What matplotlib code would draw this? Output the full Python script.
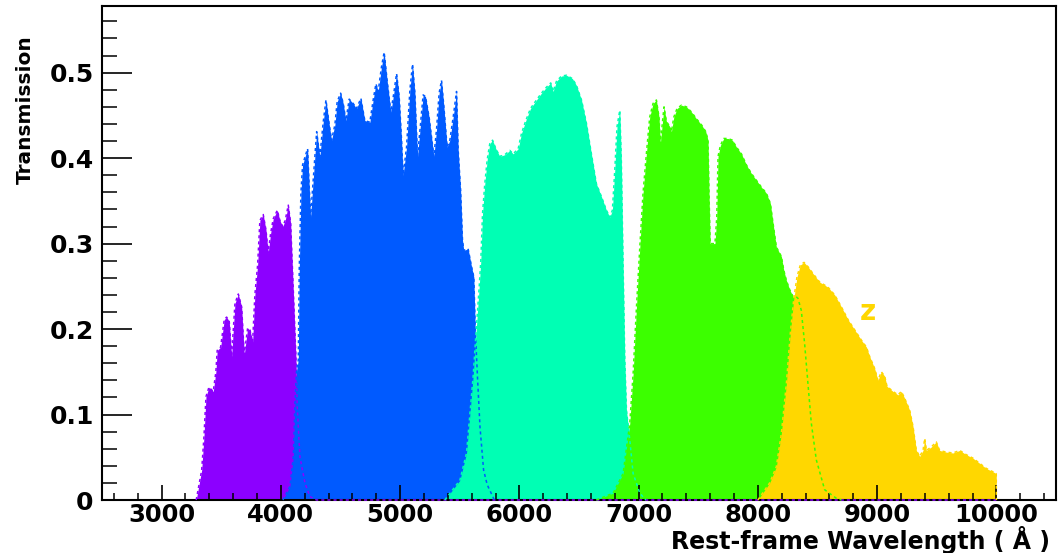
import matplotlib
matplotlib.use("Agg")
import matplotlib.pyplot as plt
from matplotlib.ticker import MultipleLocator, FuncFormatter

plt.rcParams['font.family'] = ['DejaVu Sans']
plt.rcParams['font.weight'] = 'bold'

# u filter
u_wave = [3290, 3336, 3355, 3372, 3397, 3433, 3455, 3466, 3495, 3525,
          3545, 3567, 3587, 3615, 3643, 3671, 3693, 3721, 3741, 3763,
          3782, 3805, 3824, 3852, 3875, 3894, 3914, 3936, 3970, 3992,
          4015, 4036, 4062, 4082, 4104, 4126, 4137, 4160, 4202, 4243,
          4300, 10000]
u_trans = [0, 0.035, 0.074, 0.121, 0.132, 0.127, 0.15, 0.175, 0.179, 0.211,
           0.214, 0.209, 0.168, 0.23, 0.241, 0.226, 0.17, 0.201, 0.199, 0.185,
           0.24, 0.275, 0.327, 0.334, 0.316, 0.289, 0.312, 0.329, 0.339, 0.327,
           0.32, 0.327, 0.345, 0.324, 0.246, 0.168, 0.109, 0.05, 0.02, 0.004,
           0, 0]

# g filter
g_wave = [4017, 4076, 4104, 4118, 4132, 4146, 4154, 4168, 4182, 4210,
          4224, 4249, 4271, 4300, 4327, 4355, 4378, 4405, 4425, 4453,
          4472, 4501, 4523, 4545, 4573, 4606, 4634, 4671, 4704, 4746,
          4774, 4797, 4816, 4844, 4866, 4891, 4922, 4947, 4970, 4992,
          5012, 5025, 5054, 5082, 5104, 5124, 5146, 5171, 5193, 5213,
          5243, 5263, 5283, 5305, 5327, 5347, 5367, 5394, 5417, 5445,
          5473, 5487, 5507, 5523, 5534, 5570, 5599, 5618, 5630, 5650,
          5670, 5700, 5730, 5790]
g_trans = [0, 0.016, 0.05, 0.113, 0.152, 0.164, 0.269, 0.359, 0.392, 0.405,
           0.411, 0.331, 0.374, 0.431, 0.402, 0.442, 0.468, 0.44, 0.421, 0.439,
           0.466, 0.476, 0.464, 0.444, 0.469, 0.464, 0.458, 0.47, 0.444, 0.442,
           0.468, 0.487, 0.478, 0.507, 0.524, 0.491, 0.454, 0.476, 0.499, 0.472,
           0.421, 0.38, 0.413, 0.48, 0.51, 0.476, 0.402, 0.44, 0.474, 0.472,
           0.448, 0.425, 0.402, 0.433, 0.476, 0.491, 0.46, 0.413, 0.421, 0.448,
           0.478, 0.409, 0.363, 0.304, 0.292, 0.294, 0.273, 0.261, 0.2, 0.14,
           0.085, 0.035, 0.018, 0]

# r filter
r_wave = [5375, 5501, 5557, 5612, 5640, 5663, 5677, 5691, 5710, 5730,
          5752, 5775, 5803, 5836, 5878, 5920, 5948, 5990, 6018, 6054,
          6093, 6143, 6185, 6227, 6263, 6283, 6311, 6353, 6395, 6445,
          6479, 6521, 6562, 6604, 6646, 6688, 6730, 6758, 6780, 6800,
          6819, 6842, 6855, 6869, 6884, 6898, 6926, 6954, 7010, 7060]
r_trans = [0, 0.023, 0.055, 0.144, 0.203, 0.249, 0.281, 0.335, 0.37, 0.398,
           0.417, 0.421, 0.411, 0.402, 0.404, 0.409, 0.405, 0.411, 0.429, 0.444,
           0.458, 0.468, 0.476, 0.483, 0.488, 0.478, 0.49, 0.496, 0.497, 0.493,
           0.485, 0.468, 0.441, 0.405, 0.37, 0.355, 0.339, 0.331, 0.339, 0.386,
           0.437, 0.456, 0.398, 0.281, 0.164, 0.105, 0.07, 0.031, 0.008, 0]

# i filter
i_wave = [6646, 6786, 6870, 6926, 6954, 6982, 7010, 7037, 7065, 7093,
          7121, 7149, 7171, 7182, 7199, 7213, 7233, 7261, 7275, 7295,
          7322, 7359, 7401, 7443, 7485, 7527, 7563, 7582, 7590, 7600,
          7640, 7655, 7666, 7686, 7714, 7750, 7786, 7820, 7862, 7904,
          7946, 7988, 8030, 8071, 8105, 8127, 8155, 8197, 8217, 8239,
          8267, 8295, 8320, 8336, 8364, 8392, 8420, 8448, 8490, 8560,
          8658, 8700]
i_trans = [0, 0.008, 0.031, 0.09, 0.148, 0.226, 0.296, 0.359, 0.405, 0.448,
           0.464, 0.468, 0.448, 0.417, 0.441, 0.46, 0.443, 0.437, 0.431, 0.448,
           0.458, 0.462, 0.46, 0.454, 0.446, 0.439, 0.431, 0.421, 0.36, 0.30,
           0.30, 0.33, 0.402, 0.415, 0.423, 0.423, 0.421, 0.413, 0.405, 0.392,
           0.382, 0.374, 0.366, 0.359, 0.347, 0.324, 0.296, 0.285, 0.269, 0.257,
           0.246, 0.238, 0.238, 0.236, 0.222, 0.183, 0.136, 0.09, 0.047, 0.012,
           0.002, 0]

# z filter
z_wave = [8000, 8099, 8155, 8197, 8239, 8272, 8300, 8328, 8356, 8387,
          8420, 8462, 8518, 8588, 8644, 8700, 8756, 8812, 8868, 8910,
          8937, 8979, 9007, 9035, 9063, 9083, 9133, 9175, 9203, 9231,
          9273, 9301, 9329, 9357, 9385, 9399, 9413, 9454, 9496, 9524,
          9580, 9636, 9692, 9748, 9803, 9859, 9915, 9971, 9999, 10000]
z_trans = [0, 0.02, 0.039, 0.078, 0.136, 0.195, 0.234, 0.261, 0.275, 0.278,
           0.273, 0.265, 0.255, 0.249, 0.24, 0.226, 0.211, 0.199, 0.187, 0.179,
           0.168, 0.154, 0.14, 0.15, 0.145, 0.133, 0.127, 0.123, 0.127, 0.119,
           0.105, 0.086, 0.058, 0.051, 0.058, 0.072, 0.058, 0.062, 0.068, 0.058,
           0.056, 0.055, 0.058, 0.053, 0.049, 0.043, 0.037, 0.033, 0.031, 0]

filters = [
    (u_wave, u_trans, "#8c00ff"),
    (g_wave, g_trans, "#005aff"),
    (r_wave, r_trans, "#00ffb4"),
    (i_wave, i_trans, "#3cff00"),
    (z_wave, z_trans, "#ffd700"),
]

fig = plt.figure(figsize=(10.58, 5.53), dpi=100)
ax = fig.add_axes([102 / 1058, 53 / 553, 954 / 1058, 494 / 553])

# fills first, then dashed outlines on top
for wave, trans, color in filters:
    ax.fill_between(wave, trans, 0, color=color, linewidth=0, zorder=1)
for wave, trans, color in filters:
    ax.plot(wave, trans, color=color, linestyle=(0, (2, 2)), linewidth=1.1,
            zorder=4, clip_on=False)

ax.text(8920, 0.22, "z", color="#ffd700", fontsize=20, fontweight="bold",
        ha="center", va="center")

ax.set_xlim(2500, 10500)
ax.set_ylim(0, 0.578)

ax.xaxis.set_major_locator(MultipleLocator(1000))
ax.xaxis.set_minor_locator(MultipleLocator(200))
ax.yaxis.set_major_locator(MultipleLocator(0.1))
ax.yaxis.set_minor_locator(MultipleLocator(0.02))
ax.yaxis.set_major_formatter(FuncFormatter(lambda v, p: "%g" % round(v, 2)))

ax.tick_params(axis="x", which="major", direction="in", length=10.8, width=1.2,
               labelsize=17.5, pad=2)
ax.tick_params(axis="x", which="minor", direction="in", length=5.2, width=1.1)
ax.tick_params(axis="y", which="major", direction="in", length=21.6, width=1.2,
               labelsize=18, pad=6)
ax.tick_params(axis="y", which="minor", direction="in", length=10.8, width=1.1)
for lab in ax.get_xticklabels() + ax.get_yticklabels():
    lab.set_fontweight("bold")

for s in ax.spines.values():
    s.set_linewidth(1.5)
    s.set_zorder(3)

fig.text(25 / 1058, 1 - 35 / 553, "Transmission", rotation=90, ha="center", va="top",
         fontsize=14.5, fontweight="bold")
fig.text(1050 / 1058, 4 / 553, "Rest-frame Wavelength ( \u00c5 )", ha="right",
         va="baseline", fontsize=17, fontweight="bold")

fig.savefig("out.png", dpi=100)
